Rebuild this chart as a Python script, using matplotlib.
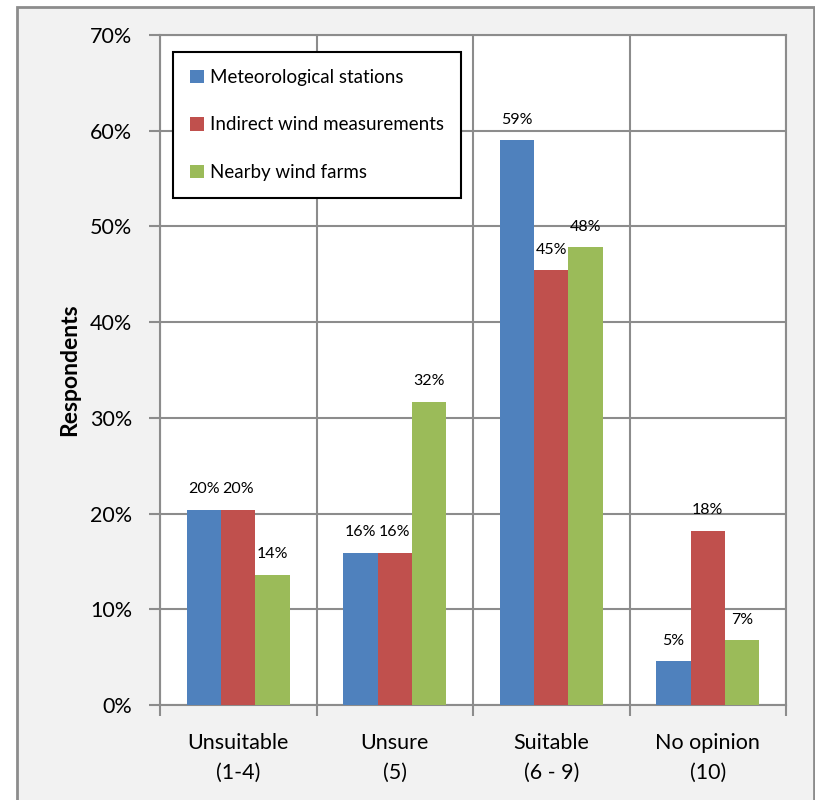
import matplotlib
matplotlib.use("Agg")
from matplotlib import pyplot
from matplotlib.patches import Rectangle
import numpy

categories = ["Unsuitable\n(1-4)", "Unsure\n(5)", "Suitable\n(6 - 9)", "No opinion\n(10)"]
series_names = ["Meteorological stations", "Indirect wind measurements", "Nearby wind farms"]
met_stations = [20.4, 15.9, 59.0, 4.6]
indirect_wind = [20.4, 15.9, 45.4, 18.2]
nearby_farms = [13.6, 31.7, 47.8, 6.8]
series_values = [met_stations, indirect_wind, nearby_farms]
colors = ["#4f81bd", "#c0504d", "#9bbb59"]
y_ticks = [0, 10, 20, 30, 40, 50, 60, 70]

def main():
    pyplot.rcParams["font.family"] = ["Lato", "DejaVu Sans"]
    grey = "#8c8c8c"

    fig = pyplot.figure(figsize=(8.15, 8.0), dpi=100, facecolor="white")
    # outer chart frame, like the spreadsheet chart area
    fig.patches.append(Rectangle((17/815, -0.01), 797/815, 1 - 7/800 + 0.01,
                                 transform=fig.transFigure, facecolor="#f2f2f2",
                                 edgecolor=grey, linewidth=2, zorder=-5))

    ax = fig.add_axes([160/815, 95/800, 626/815, 670/800])
    ax.set_facecolor("white")

    x = numpy.arange(len(categories))
    width = 0.22
    for i, (name, vals) in enumerate(zip(series_names, series_values)):
        pos = x + (i - 1) * width
        ax.bar(pos, vals, width, color=colors[i], label=name, zorder=3)
        for px, v in zip(pos, vals):
            ax.text(px, v + 1.4, "%d%%" % round(v), ha="center", va="bottom",
                    fontsize=11.5, color="black", zorder=4)

    ax.set_xlim(-0.5, len(categories) - 0.5)
    ax.set_ylim(0, 70)
    ax.set_yticks(y_ticks)
    ax.set_yticklabels(["%d%%" % t for t in y_ticks], fontsize=15.5)
    ax.set_xticks(x)
    ax.set_xticklabels(categories, fontsize=15.5, linespacing=1.6)
    ax.set_xticks(numpy.arange(len(categories) + 1) - 0.5, minor=True)
    ax.tick_params(axis="x", which="major", length=0, pad=20)
    ax.tick_params(axis="x", which="minor", length=8, width=1.5, color=grey)
    ax.tick_params(axis="y", length=8, width=1.5, color=grey, pad=12)

    ax.grid(True, axis="y", color=grey, linewidth=1.5, zorder=0)
    ax.grid(True, axis="x", which="minor", color=grey, linewidth=1.5, zorder=0)
    ax.set_axisbelow(True)
    for s in ax.spines.values():
        s.set_color(grey)
        s.set_linewidth(1.5)

    ax.set_ylabel("Respondents", fontsize=16.5, fontweight="bold", labelpad=7)

    leg = ax.legend(loc="upper left", bbox_to_anchor=(0.021, 0.975), borderaxespad=0,
                    fontsize=13.5, frameon=True, fancybox=False, framealpha=1,
                    edgecolor="black", labelspacing=1.62, handlelength=0.72,
                    handleheight=0.72, handletextpad=0.3, borderpad=0.92)
    leg.get_frame().set_linewidth(1.5)
    leg.set_zorder(5)

    pyplot.savefig("out.png", dpi=100, facecolor=fig.get_facecolor())
    pyplot.close()

if __name__ == '__main__':
    main()
